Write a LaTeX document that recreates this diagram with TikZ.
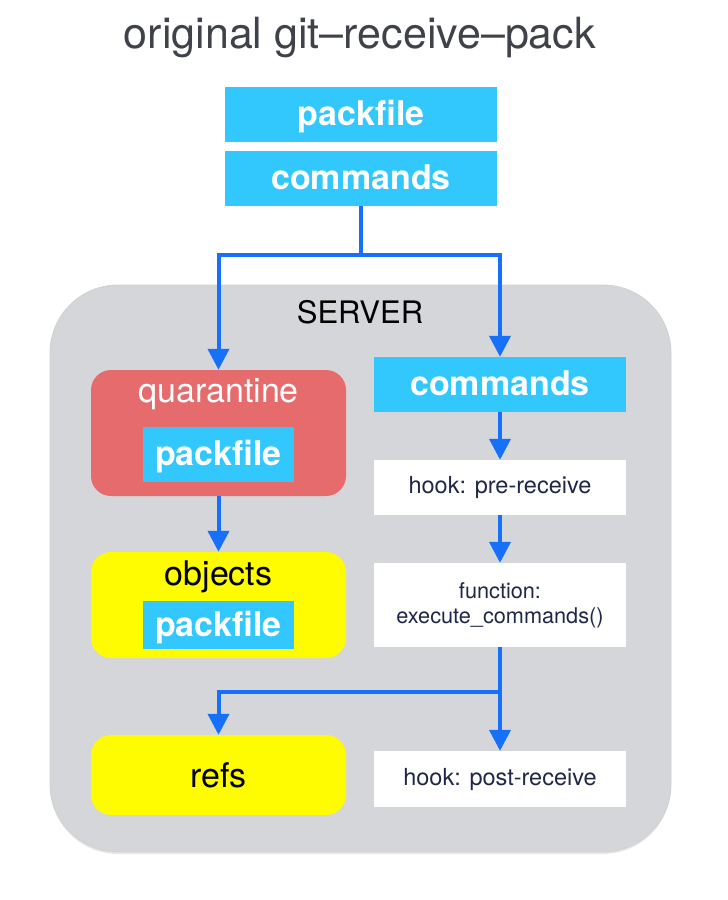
\documentclass[tikz,border=0pt]{standalone}
\usepackage{fontspec}
\setmainfont{TeX Gyre Heros}
\usetikzlibrary{arrows.meta,shadows}

\definecolor{packcyan}{RGB}{50,200,253}
\definecolor{flowblue}{RGB}{22,112,250}
\definecolor{servergray}{RGB}{213,214,218}
\definecolor{quarred}{RGB}{229,107,109}
\definecolor{storeyellow}{RGB}{255,251,0}
\definecolor{titlegray}{RGB}{63,66,72}
\definecolor{hooknavy}{RGB}{30,39,71}

\newcommand{\fsz}[1]{\fontsize{#1}{#1}\selectfont}

\tikzset{
  bluebox/.style={fill=packcyan, inner sep=0pt, text=white,
    font=\fsz{34}\bfseries, text height=24.5pt, text depth=2.5pt},
  storebox/.style={rounded corners=20pt, inner sep=0pt,
    minimum width=255pt},
  hookbox/.style={fill=white, inner sep=0pt, minimum width=252pt,
    text=hooknavy, font=\fsz{23.5}, align=center},
  conn/.style={draw=flowblue, line width=4pt},
  arr/.style={conn, -{Triangle[width=21pt,length=21pt]}},
}

\begin{document}
\begin{tikzpicture}[x=1pt, y=-1pt]
  \useasboundingbox (0,0) rectangle (728,900);

  % title
  \node[text=titlegray, font=\fsz{43}] (title) at (360,38)
    {original git--receive--pack};

  % data sent by the client
  \node[bluebox, minimum width=272pt, minimum height=55pt] (pktop) at (361,114.5) {packfile};
  \node[bluebox, minimum width=272pt, minimum height=55pt] (cmdtop) at (361,178.5) {commands};

  % server area
  \draw[fill=servergray, draw=black!18, line width=0.8pt, rounded corners=68pt,
        drop shadow={shadow xshift=0pt, shadow yshift=-2pt, opacity=0.18}]
    (50,285) rectangle (671,852);
  \node[font=\fsz{31}] (server) at (360,312) {SERVER};

  % left column: object storage
  \node[storebox, fill=quarred, minimum height=126pt] (quar) at (218.5,433) {};
  \node[text=white, font=\fsz{34}] (quarlbl) at (218.5,394) {quarantine};
  \node[bluebox, minimum width=151pt, minimum height=55pt] (quarpack) at (218.5,454.5) {packfile};

  \node[storebox, fill=storeyellow, minimum height=106pt] (obj) at (218.5,605) {};
  \node[font=\fsz{34}] (objlbl) at (218.5,577) {objects};
  \node[bluebox, minimum width=151pt, minimum height=48pt] (objpack) at (218.5,625) {packfile};

  \node[storebox, fill=storeyellow, minimum height=80pt, font=\fsz{34}] (refs) at (218.5,775) {refs};

  % right column: command processing
  \node[bluebox, minimum width=252pt, minimum height=55pt] (cmdsrv) at (500,384.5) {commands};
  \node[hookbox, minimum height=55pt] (pre) at (500,487.5) {hook: pre-receive};
  \node[hookbox, minimum height=84pt, font=\fsz{21.7}] (func) at (500,605)
    {function:\\[3pt]execute\_commands()};
  \node[hookbox, minimum height=56pt] (post) at (500,779) {hook: post-receive};

  % connectors
  \coordinate (fork1) at (361,255);
  \coordinate (fork2) at (500,692);

  \draw[conn] (cmdtop.south) -- (fork1);
  \draw[arr] (fork1) -| (quar.north);
  \draw[arr] (fork1) -| (cmdsrv.north);
  \draw[arr] (quar.south) -- (obj.north);
  \draw[arr] (cmdsrv.south) -- (pre.north);
  \draw[arr] (pre.south) -- (func.north);
  \draw[conn] (func.south) -- (fork2);
  \draw[arr] (fork2) -| (refs.north);
  \draw[arr] (fork2) -- (post.north);
\end{tikzpicture}
\end{document}
